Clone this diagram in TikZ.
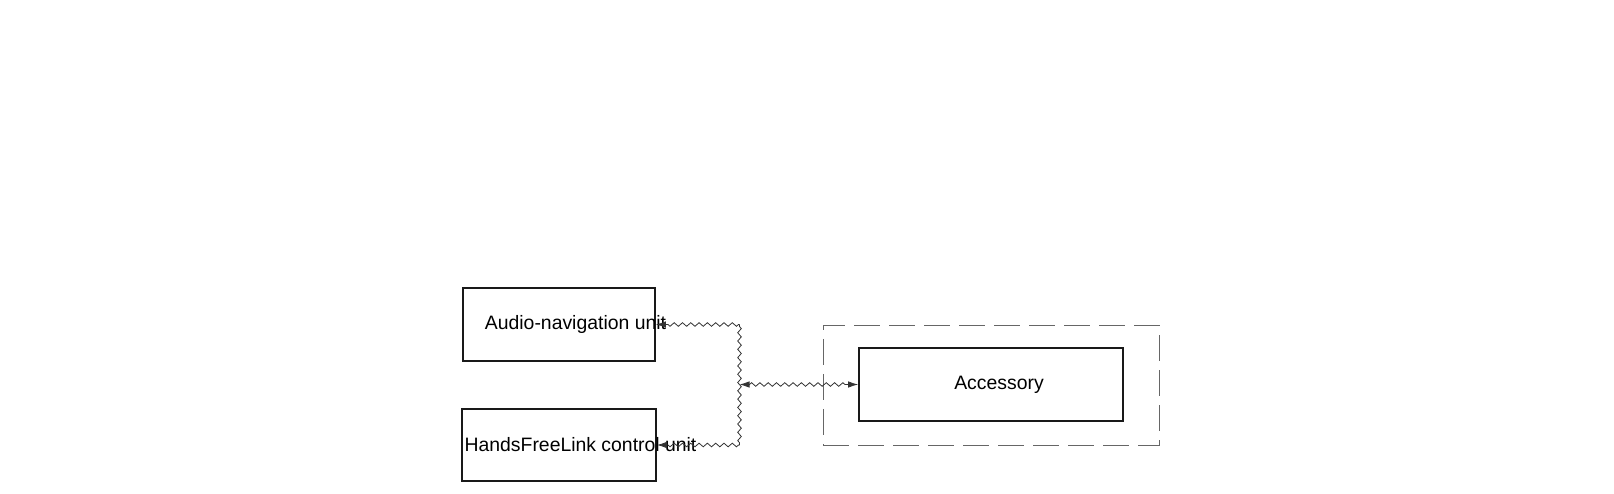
\documentclass[tikz,border=0pt]{standalone}
\usepackage{fontspec}
\setmainfont{Liberation Sans}
\usetikzlibrary{decorations.pathmorphing,arrows.meta}
\begin{document}
\begin{tikzpicture}[x=1pt,y=-1pt,
  box/.style={draw=black!90, line width=1.8pt, inner sep=0pt},
  grp/.style={draw=black!60, line width=0.9pt, dash pattern=on 26pt off 9pt, inner sep=0pt},
  lbl/.style={font=\fontsize{19.4pt}{23pt}\selectfont, inner sep=0pt},
  zz/.style={draw=black!80, line width=0.8pt, decorate,
    decoration={zigzag, segment length=8.3pt, amplitude=1.8pt, pre length=2pt, post length=2pt}},
  zzarrow/.style={draw=black!80, line width=0.8pt, decorate,
    decoration={zigzag, segment length=8.3pt, amplitude=1.8pt, pre length=1pt, post length=8pt}},
  tip/.style={-{Latex[length=10pt,width=6.5pt]}},
  tips/.style={{Latex[length=10pt,width=6.5pt]}-{Latex[length=10pt,width=6.5pt]}}
]
\useasboundingbox (0,0) rectangle (1614,494);
% boxes
\node[box, minimum width=192pt, minimum height=73pt] (audio) at (559,324.5) {};
\node[box, minimum width=194pt, minimum height=72pt] (hfl) at (559,445) {};
\node[grp, minimum width=336pt, minimum height=119.5pt] (grpbox) at (991,385.2) {};
\node[box, minimum width=264pt, minimum height=73pt] (acc) at (991,384.5) {};
% labels
\node[lbl] (audiotxt) at (575.5,324.5) {Audio-navigation unit};
\node[lbl] (hfltxt) at (580.5,445) {HandsFreeLink control unit};
\node[lbl] (acctxt) at (999,384.5) {Accessory};
% junction coordinates
\coordinate (j1) at (739.5,324.5);
\coordinate (j2) at (739.5,445);
\coordinate (jm) at (739.5,384.5);
% connectors
\draw[zz] (j1) -- (j2);
\draw[zzarrow, tip] (j1) -- (audio.east);
\draw[zzarrow, tip] (j2) -- (hfl.east);
\draw[zz, decoration={pre length=10pt, post length=10pt}, tips] (jm) -- (acc.west);
\end{tikzpicture}
\end{document}
